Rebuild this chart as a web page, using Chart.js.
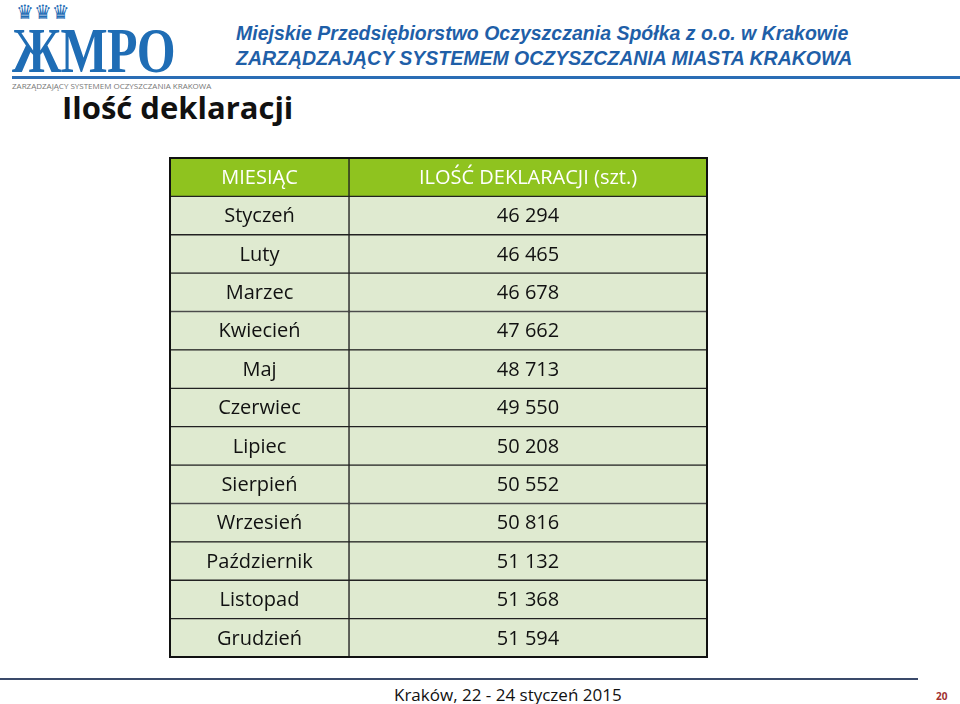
<!DOCTYPE html>
<html><head><meta charset="utf-8">
<script src="https://cdn.jsdelivr.net/npm/chart.js@4"></script>
<style>
body{margin:0;width:960px;height:704px;background:#fff;position:relative;overflow:hidden;font-family:"Open Sans",sans-serif}
.logo{position:absolute;left:12px;top:14px;font:bold 64px "Liberation Serif",serif;color:#1f6db5;letter-spacing:-1px;transform:scaleX(0.78);transform-origin:left top;white-space:nowrap}
.crown{position:absolute;left:16px;top:0px;font:20px "DejaVu Sans";color:#1f6db5}
.sub{position:absolute;left:12px;top:80px;font:8px "Open Sans";color:#777}
.hd{position:absolute;left:236px;font:italic bold 19.5px "Liberation Sans",Arial;color:#1f5fa8}
.line{position:absolute;left:12px;right:0;top:76px;height:3px;background:#2a6db5}
h1{position:absolute;left:62px;top:86px;margin:0;font:bold 31px "Open Sans";color:#111}
.fline{position:absolute;left:0;width:918px;top:678px;height:2px;background:#3a4a6a}
.foot{position:absolute;left:394px;top:683px;font:17px "Open Sans";color:#111}
.pg{position:absolute;left:936px;top:689px;font:bold 10px "Open Sans";color:#a03030}
canvas{position:absolute;left:168px;top:156px}
</style></head><body>
<div class="crown">♛♛♛</div>
<div class="logo">ЖMPO</div>
<div class="line"></div>
<div class="sub">ZARZĄDZAJĄCY SYSTEMEM OCZYSZCZANIA KRAKOWA</div>
<div class="hd" style="top:22px">Miejskie Przedsiębiorstwo Oczyszczania Spółka z o.o. w Krakowie</div>
<div class="hd" style="top:47px">ZARZĄDZAJĄCY SYSTEMEM OCZYSZCZANIA MIASTA KRAKOWA</div>
<h1>Ilość deklaracji</h1>
<canvas id="t" width="541" height="503"></canvas>
<div class="fline"></div>
<div class="foot">Kraków, 22 - 24 styczeń 2015</div>
<div class="pg">20</div>
<script>
const headers = ["MIESIĄC", "ILOŚĆ DEKLARACJI (szt.)"];
const months = ["Styczeń","Luty","Marzec","Kwiecień","Maj","Czerwiec","Lipiec","Sierpień","Wrzesień","Październik","Listopad","Grudzień"];
const counts = ["46 294","46 465","46 678","47 662","48 713","49 550","50 208","50 552","50 816","51 132","51 368","51 594"];

const rows = ["h"].concat(months);
const colSplit = 179, tableW = 537;
const fills = rows.map((r, i) => i === 0 ? "#8fc31f" : "#dfead0");

const textPlugin = {
  id: "cellText",
  afterDatasetsDraw(chart) {
    const ctx = chart.ctx, x = chart.scales.x, y = chart.scales.y;
    ctx.save();
    ctx.textAlign = "center"; ctx.textBaseline = "middle";
    rows.forEach((r, i) => {
      const py = y.getPixelForValue(i) + 1;
      const a = i === 0 ? headers[0] : months[i - 1];
      const b = i === 0 ? headers[1] : counts[i - 1];
      ctx.fillStyle = i === 0 ? "#ffffff" : "#111111";
      ctx.font = "20px 'Open Sans'";
      ctx.fillText(a, x.getPixelForValue(colSplit / 2), py);
      ctx.fillText(b, x.getPixelForValue((colSplit + tableW) / 2), py);
    });
    ctx.strokeStyle = "#111"; ctx.lineWidth = 2;
    ctx.strokeRect(x.left, y.top, x.right - x.left, y.bottom - y.top);
    ctx.restore();
  }
};

new Chart(document.getElementById("t"), {
  type: "bar",
  data: {
    labels: rows,
    datasets: [
      { data: rows.map(() => [0, colSplit]), backgroundColor: fills, borderColor: "#222", borderWidth: 1, borderSkipped: false },
      { data: rows.map(() => [colSplit, tableW]), backgroundColor: fills, borderColor: "#222", borderWidth: 1, borderSkipped: false }
    ]
  },
  options: {
    indexAxis: "y", responsive: false, animation: false,
    layout: { padding: 2 },
    datasets: { bar: { barPercentage: 1, categoryPercentage: 1, grouped: false } },
    plugins: { legend: { display: false }, tooltip: { enabled: false } },
    scales: {
      x: { display: false, min: 0, max: tableW },
      y: { display: false }
    }
  },
  plugins: [textPlugin]
});
</script>
</body></html>
